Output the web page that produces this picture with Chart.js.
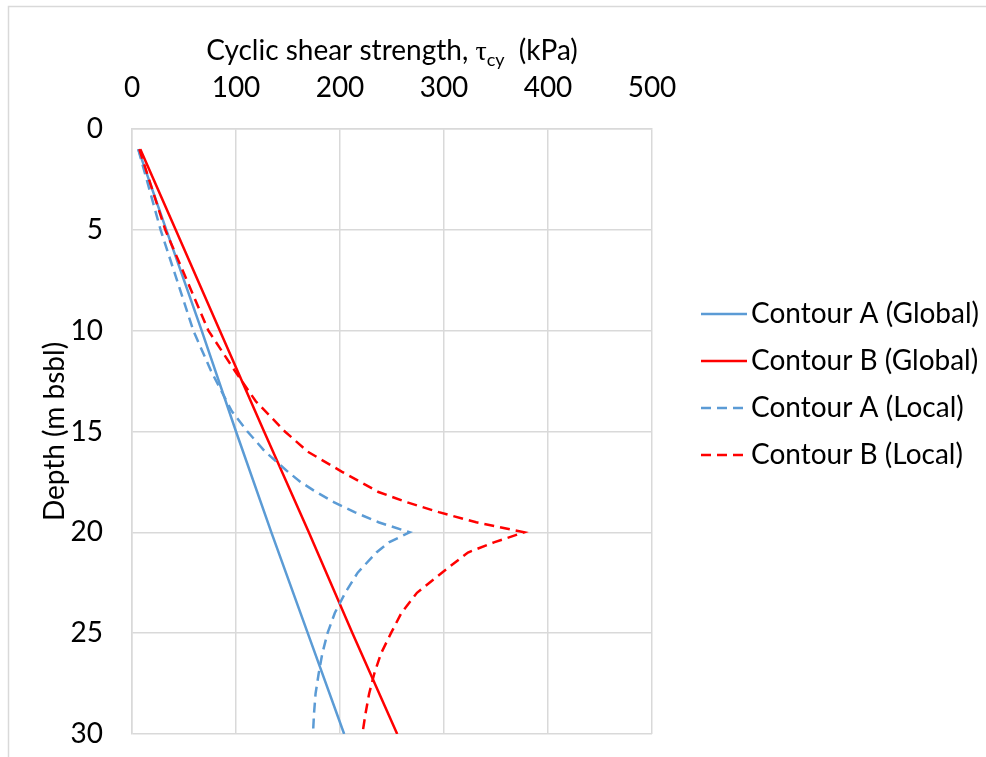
<!DOCTYPE html>
<html>
<head>
<meta charset="utf-8">
<title>Cyclic shear strength vs depth</title>
<style>
  html, body { margin: 0; padding: 0; background: #fff; }
  canvas { display: block; }
</style>
</head>
<body>
<canvas id="strengthChart" width="986" height="757"></canvas>

<script src="https://cdn.jsdelivr.net/npm/chart.js"></script>
<script>
  // depth in m bsbl, cyclic shear strength in kPa
  const depthAGlobal = [1, 5, 10, 15, 20, 25, 30];
  const tauAGlobal   = [6, 33, 67, 100, 134, 169, 204];

  const depthBGlobal = [1, 5, 10, 15, 20, 25, 30];
  const tauBGlobal   = [8, 42, 84.5, 127, 170, 212, 255];

  const depthALocal = [1, 5, 10, 12, 14, 15, 16, 17, 17.5, 18, 18.5, 19, 19.5, 20, 20.5, 21, 22, 23, 24, 25, 26, 27, 28, 29, 30];
  const tauALocal   = [6, 27.5, 59, 76, 96, 111, 128, 150, 162, 177, 194, 214, 237, 267, 247, 235, 217, 205, 195, 188, 183, 179.5, 176.5, 175, 174];

  const depthBLocal = [1, 5, 10, 12, 13.5, 15, 16, 17, 18, 18.5, 19, 19.5, 20, 20.5, 21, 22, 23, 24, 25, 26, 27, 28, 29, 30];
  const tauBLocal   = [7, 32, 73.5, 99, 119, 147, 169, 202, 237, 264, 295, 331, 377, 348, 323, 298, 274, 259, 249, 239.5, 233, 228, 224.5, 221.5];

  const seriesNames = ["Contour A (Global)", "Contour B (Global)", "Contour A (Local)", "Contour B (Local)"];
  const xTicks = [0, 100, 200, 300, 400, 500];
  const yTicks = [0, 5, 10, 15, 20, 25, 30];

  const BLUE = "#5b9bd5";
  const RED = "#ff0000";
  const GRID = "#d9d9d9";
  const FONT = "Lato";
  const SIZE = 28;

  const pts = (depths, taus) => depths.map((d, i) => ({ x: taus[i], y: d }));

  function series(label, depths, taus, color, dashed, order) {
    return {
      label: label,
      data: pts(depths, taus),
      showLine: true,
      borderColor: color,
      backgroundColor: color,
      borderWidth: 2.5,
      borderDash: dashed ? [10, 6] : [],
      pointRadius: 0,
      tension: 0,
      order: order
    };
  }

  // frame, top axis title with subscript, legend on the right
  const extras = {
    id: "extras",
    beforeDraw(chart) {
      const ctx = chart.ctx;
      ctx.save();
      ctx.strokeStyle = GRID;
      ctx.lineWidth = 1.5;
      ctx.beginPath();
      ctx.moveTo(8.5, chart.height);
      ctx.lineTo(8.5, 6.5);
      ctx.lineTo(chart.width, 6.5);
      ctx.stroke();
      ctx.restore();
    },
    afterDraw(chart) {
      const ctx = chart.ctx;
      const area = chart.chartArea;
      ctx.save();
      ctx.fillStyle = "#000";
      ctx.textBaseline = "alphabetic";
      ctx.textAlign = "left";

      const part1 = "Cyclic shear strength, ";
      const part3 = "  (kPa)";
      ctx.font = SIZE + "px " + FONT;
      const w1 = ctx.measureText(part1).width;
      const w3 = ctx.measureText(part3).width;
      ctx.font = SIZE + "px 'Liberation Serif'";
      const wt = ctx.measureText("τ").width;
      ctx.font = "18px " + FONT;
      const ws = ctx.measureText("cy").width;
      let x = (area.left + area.right) / 2 - (w1 + wt + ws + w3) / 2;
      const base = 60;
      ctx.font = SIZE + "px " + FONT;
      ctx.fillText(part1, x, base); x += w1;
      ctx.font = SIZE + "px 'Liberation Serif'";
      ctx.fillText("τ", x, base); x += wt;
      ctx.font = "18px " + FONT;
      ctx.fillText("cy", x, base + 6); x += ws;
      ctx.font = SIZE + "px " + FONT;
      ctx.fillText(part3, x, base);

      ctx.textBaseline = "middle";
      chart.data.datasets.forEach((ds, i) => {
        const y = 314 + i * 47;
        ctx.strokeStyle = ds.borderColor;
        ctx.lineWidth = ds.borderWidth;
        ctx.setLineDash(ds.borderDash);
        ctx.beginPath();
        ctx.moveTo(area.right + 49, y);
        ctx.lineTo(area.right + 95, y);
        ctx.stroke();
        ctx.setLineDash([]);
        ctx.font = SIZE + "px " + FONT;
        ctx.fillText(ds.label, area.right + 99, y);
      });
      ctx.restore();
    }
  };

  new Chart(document.getElementById("strengthChart"), {
    type: "scatter",
    data: {
      datasets: [
        series(seriesNames[0], depthAGlobal, tauAGlobal, BLUE, false, 4),
        series(seriesNames[1], depthBGlobal, tauBGlobal, RED, false, 3),
        series(seriesNames[2], depthALocal, tauALocal, BLUE, true, 2),
        series(seriesNames[3], depthBLocal, tauBLocal, RED, true, 1)
      ]
    },
    options: {
      responsive: false,
      animation: false,
      devicePixelRatio: 1,
      layout: { padding: { left: 0, top: 0, right: 334, bottom: 23 } },
      plugins: {
        legend: { display: false },
        tooltip: { enabled: false }
      },
      scales: {
        x: {
          type: "linear",
          position: "top",
          min: xTicks[0],
          max: xTicks[xTicks.length - 1],
          afterBuildTicks: s => { s.ticks = xTicks.map(v => ({ value: v })); },
          afterFit: s => { s.height = 129; },
          grid: { color: GRID, lineWidth: 1.5, drawTicks: false },
          border: { color: GRID, width: 1.5 },
          ticks: { color: "#000", padding: 24, font: { family: FONT, size: SIZE } }
        },
        y: {
          type: "linear",
          reverse: true,
          min: yTicks[0],
          max: yTicks[yTicks.length - 1],
          afterBuildTicks: s => { s.ticks = yTicks.map(v => ({ value: v })); },
          afterFit: s => { s.width = 132; s.paddingTop = 0; s.paddingBottom = 0; },
          grid: { color: GRID, lineWidth: 1.5, drawTicks: false },
          border: { color: GRID, width: 1.5 },
          ticks: { color: "#000", padding: 29, font: { family: FONT, size: SIZE } },
          title: {
            display: true,
            text: "Depth (m bsbl)",
            color: "#000",
            font: { family: FONT, size: SIZE },
            padding: { top: 38, bottom: 0 }
          }
        }
      }
    },
    plugins: [extras]
  });
</script>
</body>
</html>
